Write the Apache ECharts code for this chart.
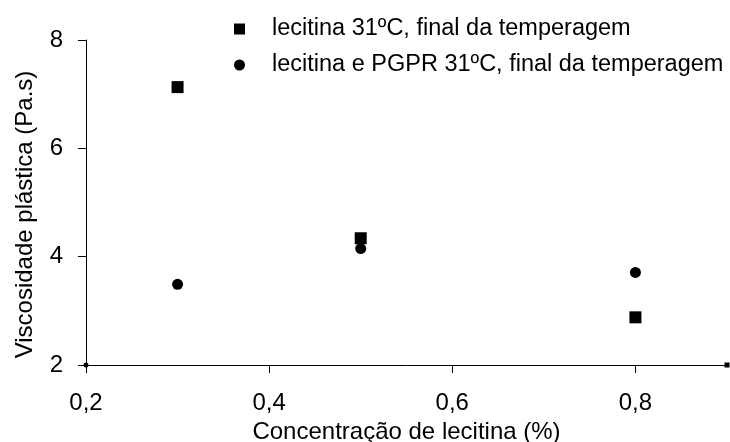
<!DOCTYPE html>
<html>
<head>
<meta charset="utf-8">
<script src="https://cdn.jsdelivr.net/npm/echarts@6/dist/echarts.min.js"></script>
<style>
html,body{margin:0;padding:0;background:#fff;}
#chart{width:730px;height:442px;}
</style>
</head>
<body>
<div id="chart"></div>
<script>
var seriesNames = ['lecitina 31ºC, final da temperagem', 'lecitina e PGPR 31ºC, final da temperagem'];
var concentrations = [0.3, 0.5, 0.8];
var lecitinaValues = [7.13, 4.34, 2.88];
var lecitinaPgprValues = [3.49, 4.15, 3.71];
var xTicks = [0.2, 0.4, 0.6, 0.8];
var yTicks = [2, 4, 6, 8];

function pairs(xs, ys) { return xs.map(function (x, i) { return [x, ys[i]]; }); }

var font = 'Liberation Sans, Arial, sans-serif';
var fs = 24;
var chart = echarts.init(document.getElementById('chart'), null, {renderer: 'canvas'});
chart.setOption({
  animation: false,
  backgroundColor: '#fff',
  grid: {left: 86, right: 3, top: 40, bottom: 77, containLabel: false, outerBoundsMode: 'none'},
  legend: {
    orient: 'vertical',
    left: 229,
    top: 12,
    itemWidth: 11,
    itemHeight: 11,
    itemGap: 12,
    textStyle: {fontFamily: font, fontSize: 23.5, color: '#000', padding: [0, 0, 0, 22]},
    data: [
      {name: seriesNames[0], icon: 'rect', itemStyle: {opacity: 1}},
      {name: seriesNames[1], icon: 'circle', itemStyle: {opacity: 1}}
    ]
  },
  xAxis: {
    type: 'value',
    min: 0.2,
    max: 0.9,
    interval: 0.1,
    name: 'Concentração de lecitina (%)',
    nameLocation: 'middle',
    nameGap: 55,
    nameTextStyle: {fontFamily: font, fontSize: fs, color: '#000'},
    axisLine: {lineStyle: {color: '#000', width: 1}, symbol: ['circle', 'rect'], symbolSize: [5, 5]},
    axisTick: {show: true, length: 8, inside: false, lineStyle: {color: '#000'}, customValues: xTicks},
    axisLabel: {
      customValues: xTicks,
      margin: 26,
      fontFamily: font, fontSize: fs, color: '#000',
      formatter: function (v) { return String(Math.round(v * 10) / 10).replace('.', ','); }
    },
    splitLine: {show: false}
  },
  yAxis: {
    type: 'value',
    min: 2,
    max: 8,
    interval: 2,
    name: 'Viscosidade plástica (Pa.s)',
    nameLocation: 'middle',
    nameGap: 49,
    nameTextStyle: {fontFamily: font, fontSize: fs, color: '#000', padding: [0, 24, 0, 0]},
    axisLine: {show: true, lineStyle: {color: '#000', width: 1}},
    axisTick: {show: true, length: 8, lineStyle: {color: '#000'}, customValues: yTicks},
    axisLabel: {customValues: yTicks, margin: 23, fontFamily: font, fontSize: fs, color: '#000'},
    splitLine: {show: false}
  },
  series: [
    {
      name: seriesNames[0],
      type: 'scatter',
      symbol: 'rect',
      symbolSize: 12,
      itemStyle: {color: '#000', opacity: 1},
      data: pairs(concentrations, lecitinaValues)
    },
    {
      name: seriesNames[1],
      type: 'scatter',
      symbol: 'circle',
      symbolSize: 11,
      itemStyle: {color: '#000', opacity: 1},
      data: pairs(concentrations, lecitinaPgprValues)
    }
  ]
});
</script>
</body>
</html>
